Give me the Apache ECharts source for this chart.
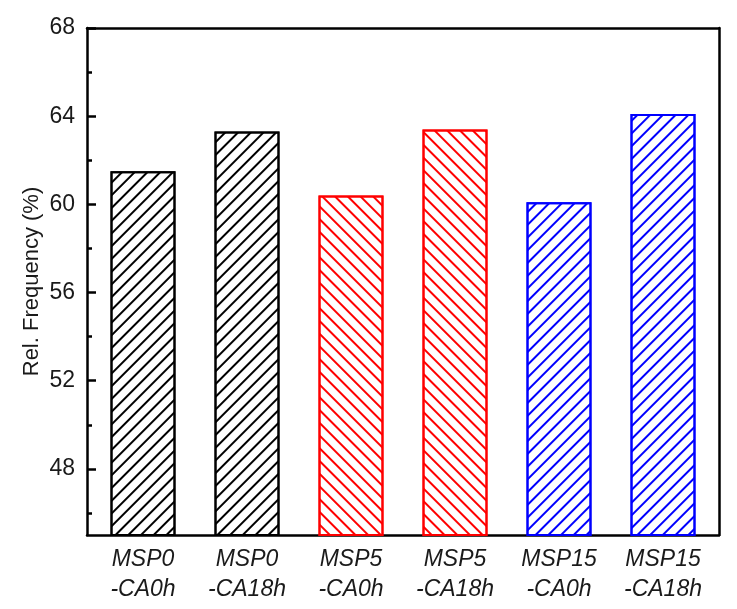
<!DOCTYPE html>
<html>
<head>
<meta charset="utf-8">
<script src="https://cdn.jsdelivr.net/npm/echarts@6/dist/echarts.min.js"></script>
<style>
  html, body { margin: 0; padding: 0; background: #fff; }
  #chart { width: 737px; height: 609px; }
</style>
</head>
<body>
<div id="chart"></div>
<script>
// data
var categories = ['MSP0\n-CA0h', 'MSP0\n-CA18h', 'MSP5\n-CA0h', 'MSP5\n-CA18h', 'MSP15\n-CA0h', 'MSP15\n-CA18h']
var relFrequency = [61.5, 63.3, 60.4, 63.4, 60.1, 64.1]
var majorTicks = [48, 52, 56, 60, 64, 68]
var minorTicks = [46, 50, 54, 58, 62, 66]

// styles per bar
var barColors = ['#000000', '#000000', '#ff0000', '#ff0000', '#0000ff', '#0000ff']
var hatchRotation = [-Math.PI / 4, -Math.PI / 4, Math.PI / 4, Math.PI / 4, -Math.PI / 4, -Math.PI / 4]

var font = 'Liberation Sans, Arial, sans-serif'
var yMin = 45
var yMax = 68

var chartDom = echarts.init(document.getElementById('chart'))

var barData = relFrequency.map(function (v, i) {
  return {
    value: v,
    itemStyle: {
      color: '#ffffff',
      borderColor: barColors[i],
      borderWidth: 2,
      decal: {
        symbol: 'rect',
        symbolSize: 1,
        color: barColors[i],
        dashArrayX: [1, 0],
        dashArrayY: [2, 7],
        rotation: hatchRotation[i],
      },
    },
  }
})

var lineStyle = { color: '#000', width: 2.5 }

var option = {
  animation: false,
  backgroundColor: '#fff',
  grid: [
    // frame with axes
    { left: 87, right: 18, top: 28, bottom: 74 },
    // bars, a bit narrower than the frame like in the figure
    { left: 91, right: 22, top: 28, bottom: 74 },
  ],
  xAxis: [
    {
      type: 'category',
      gridIndex: 0,
      data: categories,
      axisLine: { lineStyle: lineStyle },
      axisTick: { show: false },
      axisLabel: { show: false },
    },
    {
      type: 'category',
      gridIndex: 0,
      position: 'top',
      data: categories,
      axisLine: { lineStyle: lineStyle },
      axisTick: { show: false },
      axisLabel: { show: false },
    },
    {
      type: 'category',
      gridIndex: 1,
      data: categories,
      axisLine: { show: false },
      axisTick: { show: false },
      axisLabel: {
        color: '#1a1a1a',
        fontFamily: font,
        fontSize: 23,
        fontStyle: 'italic',
        lineHeight: 30,
        margin: 10,
        interval: 0,
      },
    },
  ],
  yAxis: [
    {
      type: 'value',
      gridIndex: 0,
      min: yMin,
      max: yMax,
      name: 'Rel. Frequency (%)',
      nameLocation: 'middle',
      nameGap: 44,
      nameMoveOverlap: false,
      nameTextStyle: { color: '#1a1a1a', fontFamily: font, fontSize: 22 },
      axisLine: { show: true, lineStyle: lineStyle },
      axisTick: {
        show: true,
        inside: true,
        length: 9,
        lineStyle: lineStyle,
        customValues: majorTicks,
      },
      axisLabel: {
        color: '#1a1a1a',
        fontFamily: font,
        fontSize: 23,
        margin: 12,
        customValues: majorTicks,
      },
      splitLine: { show: false },
    },
    {
      type: 'value',
      gridIndex: 0,
      min: yMin,
      max: yMax,
      position: 'left',
      axisLine: { show: false },
      axisTick: {
        show: true,
        inside: true,
        length: 5,
        lineStyle: lineStyle,
        customValues: minorTicks,
      },
      axisLabel: { show: false },
      splitLine: { show: false },
    },
    {
      type: 'value',
      gridIndex: 0,
      min: yMin,
      max: yMax,
      position: 'right',
      axisLine: { show: true, onZero: false, lineStyle: lineStyle },
      axisTick: { show: false },
      axisLabel: { show: false },
      splitLine: { show: false },
    },
    {
      type: 'value',
      gridIndex: 1,
      min: yMin,
      max: yMax,
      show: false,
    },
  ],
  series: [
    {
      type: 'bar',
      xAxisIndex: 2,
      yAxisIndex: 3,
      data: barData,
      barWidth: 65,
    },
  ],
}

chartDom.setOption(option)
</script>
</body>
</html>
